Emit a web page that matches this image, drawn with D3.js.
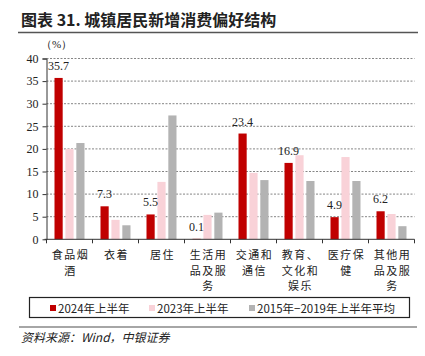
<!DOCTYPE html>
<html><head><meta charset="utf-8">
<script src="https://cdn.jsdelivr.net/npm/d3@7"></script>
<style>
html,body{margin:0;padding:0;background:#fff;}
svg{display:block;}
</style></head>
<body>
<script>
const categories = [["食品烟","酒"],["衣着"],["居住"],["生活用","品及服","务"],["交通和","通信"],["教育、","文化和","娱乐"],["医疗保","健"],["其他用","品及服","务"]];
const seriesNames = ["2024年上半年","2023年上半年","2015年−2019年上半年平均"];
const s2024 = [35.7, 7.3, 5.5, 0.1, 23.4, 16.9, 4.9, 6.2];
const s2023 = [20.0, 4.3, 12.7, 5.4, 14.7, 18.6, 18.2, 5.6];
const sAvg  = [21.3, 3.1, 27.4, 5.9, 13.1, 12.9, 12.9, 2.9];
const yTicks = [0,5,10,15,20,25,30,35,40];
const colors = ["#C00000","#F9D2D8","#B3B3B3"];

const W = 425, H = 356;
const svg = d3.select("body").append("svg").attr("width", W).attr("height", H);

// title
svg.append("text").attr("x", 21).attr("y", 26)
  .attr("font-family", "'Noto Sans CJK SC', sans-serif").attr("font-weight", "bold")
  .attr("font-size", 16).attr("fill", "#222")
  .text("图表 31. 城镇居民新增消费偏好结构");
svg.append("line").attr("x1", 18).attr("x2", 418).attr("y1", 32.5).attr("y2", 32.5)
  .attr("stroke", "#555").attr("stroke-width", 1.6);

const x0 = 46.5, x1 = 414.5, yTop = 58.5, yBot = 239.3;
const x = d3.scaleBand().domain(d3.range(categories.length)).range([x0, x1]).padding(0);
const y = d3.scaleLinear().domain([0, 40]).range([yBot, yTop]);
const sub = d3.scaleBand().domain([0,1,2]).range([0, 30]).paddingInner(0.25);

// gridlines
svg.append("g").selectAll("line").data(yTicks.filter(d => d > 0)).join("line")
  .attr("x1", x0).attr("x2", x1).attr("y1", d => y(d)).attr("y2", d => y(d))
  .attr("stroke", "#666").attr("stroke-width", 0.8).attr("stroke-dasharray", "2,1.5");

// y axis
const yAxis = svg.append("g").attr("transform", `translate(${x0},0)`)
  .call(d3.axisLeft(y).tickValues(yTicks).tickSize(4).tickPadding(4));
yAxis.select(".domain").attr("stroke", "#333").attr("stroke-width", 1);
yAxis.selectAll(".tick line").attr("stroke", "#333");
yAxis.selectAll("text").attr("font-family", "'Liberation Serif', 'Times New Roman', serif")
  .attr("font-size", 12).attr("fill", "#222");
yAxis.select(".tick:first-of-type line").remove();

svg.append("text").attr("x", 41).attr("y", 48)
  .attr("font-family", "'Liberation Serif', serif").attr("font-size", 11).attr("fill", "#222").text("（%）");

// bars
const all = [s2024, s2023, sAvg];
all.forEach((vals, si) => {
  svg.append("g").selectAll("rect").data(vals).join("rect")
    .attr("x", (d, i) => x(i) + (x.bandwidth() - 30) / 2 + sub(si))
    .attr("width", sub.bandwidth())
    .attr("y", d => y(d)).attr("height", d => yBot - y(d))
    .attr("fill", colors[si]);
});

// labels above red bars
svg.append("g").selectAll("text").data(s2024).join("text")
  .attr("x", (d, i) => x(i) + (x.bandwidth() - 30) / 2 + sub(0) + sub.bandwidth() / 2)
  .attr("y", d => y(d) - 8)
  .attr("text-anchor", "middle")
  .attr("font-family", "'Liberation Serif', serif").attr("font-size", 12).attr("fill", "#222")
  .text(d => d.toFixed(1));

// x axis
const xAxisG = svg.append("g");
xAxisG.append("line").attr("x1", x0 - 2).attr("x2", x1).attr("y1", yBot).attr("y2", yBot)
  .attr("stroke", "#333").attr("stroke-width", 1);
xAxisG.selectAll("line.t").data(d3.range(categories.length + 1)).join("line").attr("class", "t")
  .attr("x1", i => x0 + i * x.step()).attr("x2", i => x0 + i * x.step())
  .attr("y1", yBot).attr("y2", yBot + 4).attr("stroke", "#333");

const catG = svg.append("g").selectAll("text").data(categories).join("text")
  .attr("text-anchor", "middle")
  .attr("font-family", "'Noto Sans CJK SC', sans-serif").attr("font-size", 11).attr("fill", "#222")
  .attr("letter-spacing", 1.5);
catG.each(function(lines, i) {
  const t = d3.select(this);
  lines.forEach((ln, k) => {
    t.append("tspan").attr("x", x(i) + x.bandwidth() / 2 + 1).attr("y", 259 + k * 15.5).text(ln);
  });
});

// legend
svg.append("rect").attr("x", 29.5).attr("y", 297.5).attr("width", 380).attr("height", 20)
  .attr("fill", "none").attr("stroke", "#222").attr("stroke-width", 1.2);
const legX = [50, 149, 249];
seriesNames.forEach((n, i) => {
  svg.append("rect").attr("x", legX[i]).attr("y", 305).attr("width", 6).attr("height", 6).attr("fill", colors[i]);
  svg.append("text").attr("x", legX[i] + 8).attr("y", 312.5)
    .attr("font-family", "'Noto Sans CJK SC', sans-serif").attr("font-size", 11.5).attr("fill", "#222")
    .text(n);
});

// footer
svg.append("line").attr("x1", 19).attr("x2", 417).attr("y1", 327).attr("y2", 327)
  .attr("stroke", "#888").attr("stroke-width", 1.5);
svg.append("text").attr("x", 21).attr("y", 342)
  .attr("font-family", "'Noto Sans CJK SC', sans-serif").attr("font-size", 12).attr("font-style", "italic")
  .attr("fill", "#222").text("资料来源：Wind，中银证券");
</script>
</body></html>
